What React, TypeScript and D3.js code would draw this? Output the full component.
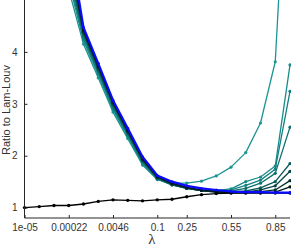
import React, { useEffect, useRef } from 'react';
import * as d3 from 'd3';

// lambda values (points are evenly spaced, not on a real scale)
const lambdas = ['1e-05', '2.8e-05', '7.7e-05', '0.00022', '0.0006', '0.0017', '0.0046', '0.013', '0.036', '0.1',
    '0.15', '0.25', '0.35', '0.45', '0.55', '0.65', '0.75', '0.85', '0.95'];
const xTicks = ['1e-05', '0.00022', '0.0046', '0.1', '0.25', '0.55', '0.85'];
const yTicks = [1, 2, 3, 4];

// teal -> black family of runs
const run1 = [12.0, 9.5, 7.4, 5.2, 4.15, 3.50, 2.84, 2.33, 1.82, 1.54, 1.47, 1.47, 1.51, 1.61, 1.78, 2.06, 2.63, 3.81, 9.0];
const run2 = [12.3, 9.7, 7.6, 5.35, 4.22, 3.56, 2.89, 2.37, 1.85, 1.55, 1.44, 1.38, 1.34, 1.33, 1.36, 1.50, 1.59, 1.80, 3.75];
const run3 = [12.6, 9.9, 7.7, 5.45, 4.27, 3.60, 2.92, 2.40, 1.87, 1.56, 1.44, 1.37, 1.33, 1.32, 1.34, 1.43, 1.53, 1.74, 3.24];
const run4 = [12.9, 10.1, 7.9, 5.55, 4.31, 3.63, 2.95, 2.42, 1.89, 1.56, 1.44, 1.37, 1.33, 1.31, 1.32, 1.37, 1.47, 1.66, 2.55];
const run5 = [13.2, 10.3, 8.0, 5.65, 4.35, 3.66, 2.98, 2.44, 1.91, 1.57, 1.45, 1.37, 1.33, 1.31, 1.30, 1.32, 1.38, 1.50, 1.85];
const run6 = [13.5, 10.5, 8.1, 5.75, 4.38, 3.69, 3.00, 2.46, 1.92, 1.58, 1.45, 1.38, 1.33, 1.30, 1.29, 1.30, 1.34, 1.42, 1.70];
const run7 = [13.8, 10.7, 8.2, 5.85, 4.40, 3.71, 3.02, 2.48, 1.93, 1.59, 1.46, 1.38, 1.33, 1.30, 1.29, 1.29, 1.31, 1.34, 1.52];
const run8 = [14.0, 10.8, 8.3, 5.95, 4.42, 3.73, 3.03, 2.49, 1.94, 1.60, 1.47, 1.39, 1.34, 1.31, 1.29, 1.29, 1.29, 1.30, 1.40];
const runs = [run1, run2, run3, run4, run5, run6, run7, run8];
const runColors = ['#1b9595', '#188b8b', '#148080', '#106f6f', '#0c5a5a', '#084444', '#052e2e', '#021818'];

// baseline-ish black run and the blue one
const blackRun = [1.0, 1.02, 1.04, 1.04, 1.07, 1.12, 1.15, 1.14, 1.13, 1.15, 1.16, 1.21, 1.25, 1.27, 1.28, 1.28, 1.28, 1.28, 1.28];
const blueRun = [14.5, 11.2, 8.6, 6.2, 4.47, 3.78, 3.07, 2.53, 1.98, 1.62, 1.50, 1.42, 1.37, 1.34, 1.31, 1.30, 1.30, 1.29, 1.29];

const App = () => {
    const svgRef = useRef<SVGSVGElement>(null);

    useEffect(() => {
        const svg = d3.select(svgRef.current);
        svg.selectAll('*').remove();

        const width = 291;
        const height = 248;
        const left = 24.5;
        const bottom = 218;

        svg.attr('width', width).attr('height', height);

        const x = d3.scalePoint<string>().domain(lambdas).range([left, 290]);
        const y = d3.scaleLinear().domain([0.8, 5]).range([bottom, 0]);

        svg.append('defs').append('clipPath').attr('id', 'plot')
            .append('rect').attr('x', 0).attr('y', 0).attr('width', width).attr('height', bottom);

        const plot = svg.append('g').attr('clip-path', 'url(#plot)');

        const line = d3.line<number>()
            .x((d, i) => x(lambdas[i]) as number)
            .y(d => y(d));

        const drawRun = (vals: number[], color: string, lw: number, r: number) => {
            plot.append('path')
                .datum(vals)
                .attr('d', line)
                .attr('fill', 'none')
                .attr('stroke', color)
                .attr('stroke-width', lw)
                .attr('stroke-linejoin', 'round');
            plot.append('g').selectAll('circle')
                .data(vals)
                .enter()
                .append('circle')
                .attr('cx', (d, i) => x(lambdas[i]) as number)
                .attr('cy', d => y(d))
                .attr('r', r)
                .attr('fill', color);
        };

        runs.forEach((r, i) => drawRun(r, runColors[i], 1.3, 1.6));
        drawRun(blackRun, '#000000', 1.4, 1.7);
        drawRun(blueRun, '#0a0aff', 2.2, 1.5);

        // Axes (matlab style, ticks inside, no box)
        const xAxis = d3.axisBottom(x).tickValues(xTicks).tickSizeInner(-3).tickSizeOuter(0).tickPadding(6);
        const yAxis = d3.axisLeft(y).tickValues(yTicks).tickFormat(d3.format('d')).tickSizeInner(-3).tickSizeOuter(0).tickPadding(7);

        const gx = svg.append('g').attr('transform', `translate(0,${bottom})`).call(xAxis);
        gx.select('.domain').attr('d', `M${left},0H290`);
        const gy = svg.append('g').attr('transform', `translate(${left},0)`).call(yAxis);
        gy.select('.domain').attr('d', `M0,${bottom}V0`);

        [gx, gy].forEach(g => {
            g.selectAll('path, line').attr('stroke', '#262626').attr('stroke-width', 1);
            g.selectAll('text')
                .style('font-family', '"Liberation Sans", Arial, sans-serif')
                .style('font-size', '10px')
                .attr('fill', '#333');
        });

        // Labels
        svg.append('text')
            .attr('transform', `translate(10,110) rotate(-90)`)
            .attr('text-anchor', 'middle')
            .style('font-family', '"Liberation Sans", Arial, sans-serif')
            .style('font-size', '11px')
            .attr('fill', '#333')
            .text('Ratio to Lam-Louv');

        svg.append('text')
            .attr('x', 152)
            .attr('y', 244)
            .attr('text-anchor', 'middle')
            .style('font-family', '"Liberation Serif", serif')
            .style('font-size', '15px')
            .attr('fill', '#333')
            .text('λ');
    }, []);

    return (
        <svg ref={svgRef} style={{ position: 'absolute', left: 0, top: 0 }}></svg>
    );
};

export default App;
